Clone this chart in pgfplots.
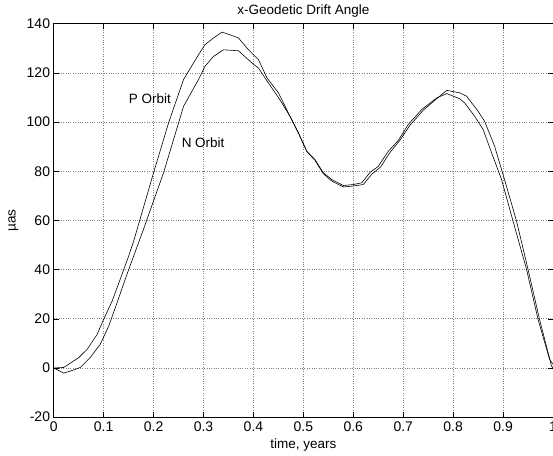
\documentclass[border=0pt]{standalone}
\usepackage{fontspec}
\setmainfont{Liberation Sans}
\usepackage{pgfplots}
\pgfplotsset{compat=1.18}
\begin{document}
\fontsize{13.5bp}{16bp}\selectfont
\begin{tikzpicture}[trim axis right]
\begin{axis}[
  width=500bp, height=394bp, scale only axis,
  xmin=0, xmax=1, ymin=-20, ymax=140,
  xtick={0,0.1,0.2,0.3,0.4,0.5,0.6,0.7,0.8,0.9,1},
  xticklabels={0,0.1,0.2,0.3,0.4,0.5,0.6,0.7,0.8,0.9,1},
  ytick={-20,0,20,40,60,80,100,120,140},
  yticklabels={-20,0,20,40,60,80,100,120,140},
  tick align=inside, major tick length=5bp,
  tick style={black, line width=0.5pt},
  axis line style={black, line width=0.7pt},
  grid=major,
  major grid style={dotted, black!50, line width=0.6pt},
  title={x-Geodetic Drift Angle},
  title style={yshift=-4bp},
  xlabel={time, years},
  ylabel={µas},
  xlabel style={yshift=2bp},
  ylabel style={yshift=-1bp},
  xticklabel style={yshift=0bp},
  yticklabel style={xshift=1bp},
  every tick label/.append style={font=\fontsize{14bp}{16bp}\selectfont},
  label style={font=\fontsize{13.5bp}{16bp}\selectfont},
  title style={font=\fontsize{13.5bp}{16bp}\selectfont},
  /pgf/number format/assume math mode=true,
]
\addplot[black, line width=0.6pt] coordinates {
(0,0) (0.02,0.2) (0.05,4.2) (0.067,7.6) (0.087,13.7) (0.1,19.8) (0.117,27.2)
(0.133,36) (0.15,45.5) (0.16,51.5) (0.18,65.5) (0.2,79.4) (0.23,99.7) (0.26,117.3) (0.29,127.4)
(0.303,131.5) (0.32,134.2) (0.337,136.6) (0.353,135.5) (0.37,134.2) (0.39,129.4)
(0.41,125.4) (0.427,118) (0.45,111.9) (0.47,103.7) (0.49,95.6) (0.507,88.1)
(0.523,84.8) (0.54,79.4) (0.557,76.6) (0.58,74.2) (0.6,74.6) (0.617,75.3)
(0.633,79.4) (0.65,82) (0.67,88.1) (0.69,92.5) (0.71,99) (0.737,105.1)
(0.767,109.8) (0.787,111.6) (0.813,109.5) (0.823,107.8) (0.843,102.4) (0.86,97)
(0.877,87.5) (0.897,76.6) (0.92,59.7) (0.947,40.1) (0.97,19.8) (0.993,3.6) (1,1.5)
};
\addplot[black, line width=0.6pt] coordinates {
(0,0) (0.02,-2.1) (0.04,-0.8) (0.053,0.2) (0.073,4.2) (0.093,9.6) (0.11,17)
(0.127,26.6) (0.143,36) (0.16,45.5) (0.18,56.5) (0.2,68) (0.22,79.4) (0.26,106.4)
(0.29,117.3) (0.303,122.7) (0.32,126.7) (0.34,129.4) (0.37,129) (0.397,124)
(0.41,122) (0.43,115.9) (0.453,109.1) (0.473,102.4) (0.49,95.6) (0.507,88)
(0.523,84.5) (0.54,79) (0.557,76) (0.58,73.6) (0.6,74) (0.62,74.6) (0.637,78.8)
(0.655,81.8) (0.673,87.5) (0.693,92.5) (0.713,98.6) (0.74,104.8) (0.767,109.5)
(0.787,112.9) (0.813,111.9) (0.827,110.5) (0.85,104.4) (0.863,100.3) (0.883,90.2)
(0.903,76.6) (0.927,59.7) (0.95,40.1) (0.973,19.8) (0.997,0.8) (1,0)
};
\node[anchor=west, inner sep=0pt] at (axis cs:0.15,109.5) {P Orbit};
\node[anchor=west, inner sep=0pt] at (axis cs:0.256,91.7) {N Orbit};
\end{axis}
\path ([xshift=-4bp]current bounding box.west);
\end{tikzpicture}
\end{document}
